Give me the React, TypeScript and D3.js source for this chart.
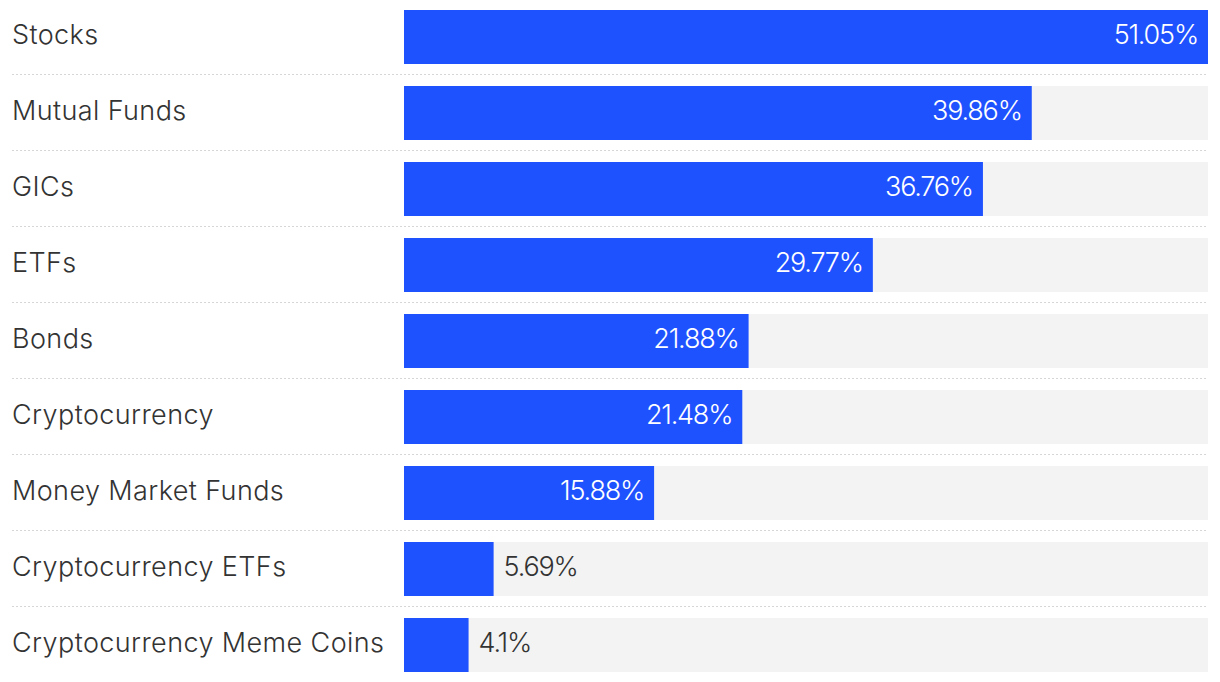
import React from "react";
import * as d3 from "d3";

const categories = [
  "Stocks",
  "Mutual Funds",
  "GICs",
  "ETFs",
  "Bonds",
  "Cryptocurrency",
  "Money Market Funds",
  "Cryptocurrency ETFs",
  "Cryptocurrency Meme Coins",
];
const values = [51.05, 39.86, 36.76, 29.77, 21.88, 21.48, 15.88, 5.69, 4.1];
const valueLabels = ["51.05%", "39.86%", "36.76%", "29.77%", "21.88%", "21.48%", "15.88%", "5.69%", "4.1%"];

const W = 1220;
const H = 682;
const FONT = "Inter, 'Noto Sans', sans-serif";

export default function App() {
  const x = d3.scaleLinear().domain([0, d3.max(values) as number]).range([404, 1208]);
  const y = d3.scaleBand<string>().domain(categories).range([-1, 683]).paddingInner(0).paddingOuter(0);
  const barH = 54;
  const step = y.step();

  return (
    <svg
      width={W}
      height={H}
      style={{ position: "absolute", left: 0, top: 0, background: "#fff" }}
    >
      {categories.map((c, i) => {
        const y0 = (y(c) as number) + 11;
        const cy = y0 + barH / 2 - 2;
        const v = values[i];
        const xe = x(v);
        const inside = xe - x(0) > 150;
        return (
          <g key={c}>
            <rect x={x(0)} y={y0} width={x.range()[1] - x(0)} height={barH} fill="#f3f3f3" />
            <rect x={x(0)} y={y0} width={xe - x(0)} height={barH} fill="#1f52ff" />
            <text
              x={12}
              y={cy}
              dy="0.35em"
              fontFamily={FONT}
              fontSize={27}
              fontWeight={300}
              letterSpacing={0.4}
              fill="#333"
            >
              {c}
            </text>
            <text
              x={inside ? xe - 10 : xe + 10}
              y={cy}
              dy="0.35em"
              textAnchor={inside ? "end" : "start"}
              fontFamily={FONT}
              fontSize={27}
              fontWeight={300}
              letterSpacing={-1.2}
              fill={inside ? "#fff" : "#333"}
            >
              {valueLabels[i]}
            </text>
            {i < categories.length - 1 && (
              <line
                x1={12}
                x2={1208}
                y1={(y(c) as number) + step - 0.5}
                y2={(y(c) as number) + step - 0.5}
                stroke="#d6d6d6"
                strokeWidth={1}
                strokeDasharray="2,2"
              />
            )}
          </g>
        );
      })}
    </svg>
  );
}
